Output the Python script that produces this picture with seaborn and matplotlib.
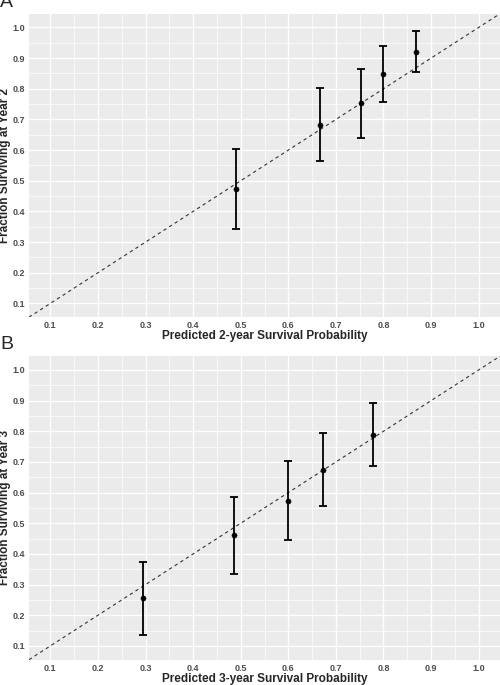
import matplotlib
matplotlib.use('Agg')
import matplotlib.pyplot as plt
import seaborn as sns
import numpy as np

# panel A: 2-year calibration
pred_a = [0.49, 0.667, 0.752, 0.80, 0.868]
obs_a = [0.472, 0.681, 0.753, 0.848, 0.920]
lo_a = [0.342, 0.563, 0.641, 0.758, 0.854]
hi_a = [0.605, 0.801, 0.866, 0.941, 0.989]

# panel B: 3-year calibration
pred_b = [0.295, 0.485, 0.60, 0.672, 0.778]
obs_b = [0.256, 0.461, 0.574, 0.675, 0.789]
lo_b = [0.137, 0.335, 0.444, 0.555, 0.687]
hi_b = [0.375, 0.587, 0.702, 0.796, 0.891]

ticks = [0.1, 0.2, 0.3, 0.4, 0.5, 0.6, 0.7, 0.8, 0.9, 1.0]

sns.set_theme(style='darkgrid', rc={'axes.facecolor': '#ebebeb', 'grid.color': 'white'})
plt.rcParams['font.family'] = ['Liberation Sans', 'DejaVu Sans']

fig = plt.figure(figsize=(5.0, 6.85), dpi=100)
panels = [
    ('A', pred_a, obs_a, lo_a, hi_a, 'Predicted 2-year Survival Probability', 'Fraction Surviving at Year 2', [0.058, 0.537, 0.942, 0.443]),
    ('B', pred_b, obs_b, lo_b, hi_b, 'Predicted 3-year Survival Probability', 'Fraction Surviving at Year 3', [0.058, 0.037, 0.942, 0.443]),
]
for lab, px, py, lo, hi, xl, yl, rect in panels:
    ax = fig.add_axes(rect)
    lim = (0.055, 1.045)
    ax.plot(lim, lim, color='#333333', linestyle=(0, (3, 3)), linewidth=0.8)
    yerr = [np.array(py) - np.array(lo), np.array(hi) - np.array(py)]
    ax.errorbar(px, py, yerr=yerr, fmt='none', ecolor='black', elinewidth=1.3, capsize=3, capthick=1.3)
    sns.scatterplot(x=px, y=py, ax=ax, color='black', s=14, edgecolor='black', zorder=5)
    ax.set_xlim(lim)
    ax.set_ylim(lim)
    ax.set_xticks(ticks)
    ax.set_yticks(ticks)
    ax.set_xticklabels([f'{t:.1f}' for t in ticks])
    ax.set_yticklabels([f'{t:.1f}' for t in ticks])
    ax.set_xticks(np.arange(0.15, 1.05, 0.1), minor=True)
    ax.set_yticks(np.arange(0.15, 1.05, 0.1), minor=True)
    ax.grid(which='major', color='white', linewidth=1.0)
    ax.grid(which='minor', color='white', linewidth=0.5)
    ax.tick_params(axis='both', labelsize=6.5, colors='#4d4d4d', length=2, pad=1)
    for t in ax.get_xticklabels() + ax.get_yticklabels():
        t.set_fontweight('bold')
    ax.set_xlabel(xl, fontsize=8.5, fontweight='bold', labelpad=0)
    ax.set_ylabel(yl, fontsize=8.5, fontweight='bold', labelpad=1)
    for sp in ax.spines.values():
        sp.set_visible(False)
    fig.text(0.0, rect[1] + rect[3] + 0.004, lab, fontsize=14, va='bottom', ha='left')

fig.savefig('out.png', dpi=100)
